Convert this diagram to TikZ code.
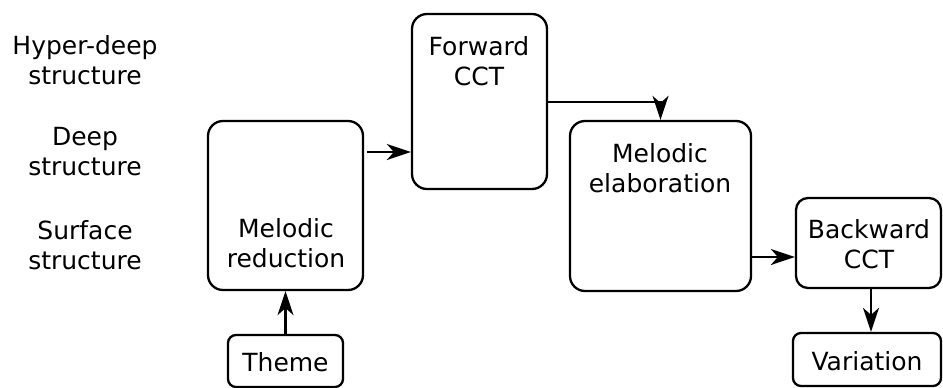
\documentclass[tikz,border=0pt]{standalone}
\usepackage{fontspec}
\setmainfont{DejaVu Sans}
\usetikzlibrary{arrows.meta}
\begin{document}
\begin{tikzpicture}[x=1pt,y=-1pt,
  box/.style={draw, line width=2.3pt, rounded corners=15pt, inner sep=0pt},
  smallbox/.style={draw, line width=2.3pt, rounded corners=8pt, inner sep=0pt},
  txt/.style={font=\fontsize{25}{30}\selectfont, align=center, inner sep=0pt},
  conn/.style={line width=2.3pt, -{Stealth[length=24pt,width=16pt,inset=7pt]}}]
\useasboundingbox (0,0) rectangle (943,388);
% level labels
\node[txt] (hyper) at (85,60) {Hyper-deep\\structure};
\node[txt] (deep) at (85,152) {Deep\\structure};
\node[txt] (surf) at (85,245) {Surface\\structure};
% boxes
\node[box, minimum width=155pt, minimum height=169pt] (mr) at (285.5,205.5) {};
\node[txt] (mrt) at (286,243) {Melodic\\reduction};
\node[box, minimum width=135pt, minimum height=175pt] (fc) at (479.5,101.5) {};
\node[txt] (fct) at (479,61) {Forward\\CCT};
\node[box, minimum width=181pt, minimum height=170pt] (me) at (660.5,206) {};
\node[txt] (met) at (660,168) {Melodic\\elaboration};
\node[box, rounded corners=12pt, minimum width=145pt, minimum height=90pt] (bc) at (868.5,243) {};
\node[txt] (bct) at (869,244) {Backward\\CCT};
\node[smallbox, minimum width=115pt, minimum height=52pt] (th) at (285.5,361) {};
\node[txt] (tht) at (285.5,362) {Theme};
\node[smallbox, minimum width=148pt, minimum height=53pt] (var) at (867,359.5) {};
\node[txt] (vart) at (867,361) {Variation};
% connectors
\draw[conn] (th.north) -- (mr.south);
\draw[conn] ([xshift=3pt,yshift=53.5pt]mr.east) -- ([yshift=-50.5pt]fc.west);
\draw[conn] ([yshift=-0.5pt]fc.east) -| (me.north);
\draw[conn] ([yshift=-51pt]me.east) -- ([yshift=-14pt]bc.west);
\draw[conn] ([xshift=2.5pt]bc.south) -- ([xshift=4pt]var.north);
\end{tikzpicture}
\end{document}
